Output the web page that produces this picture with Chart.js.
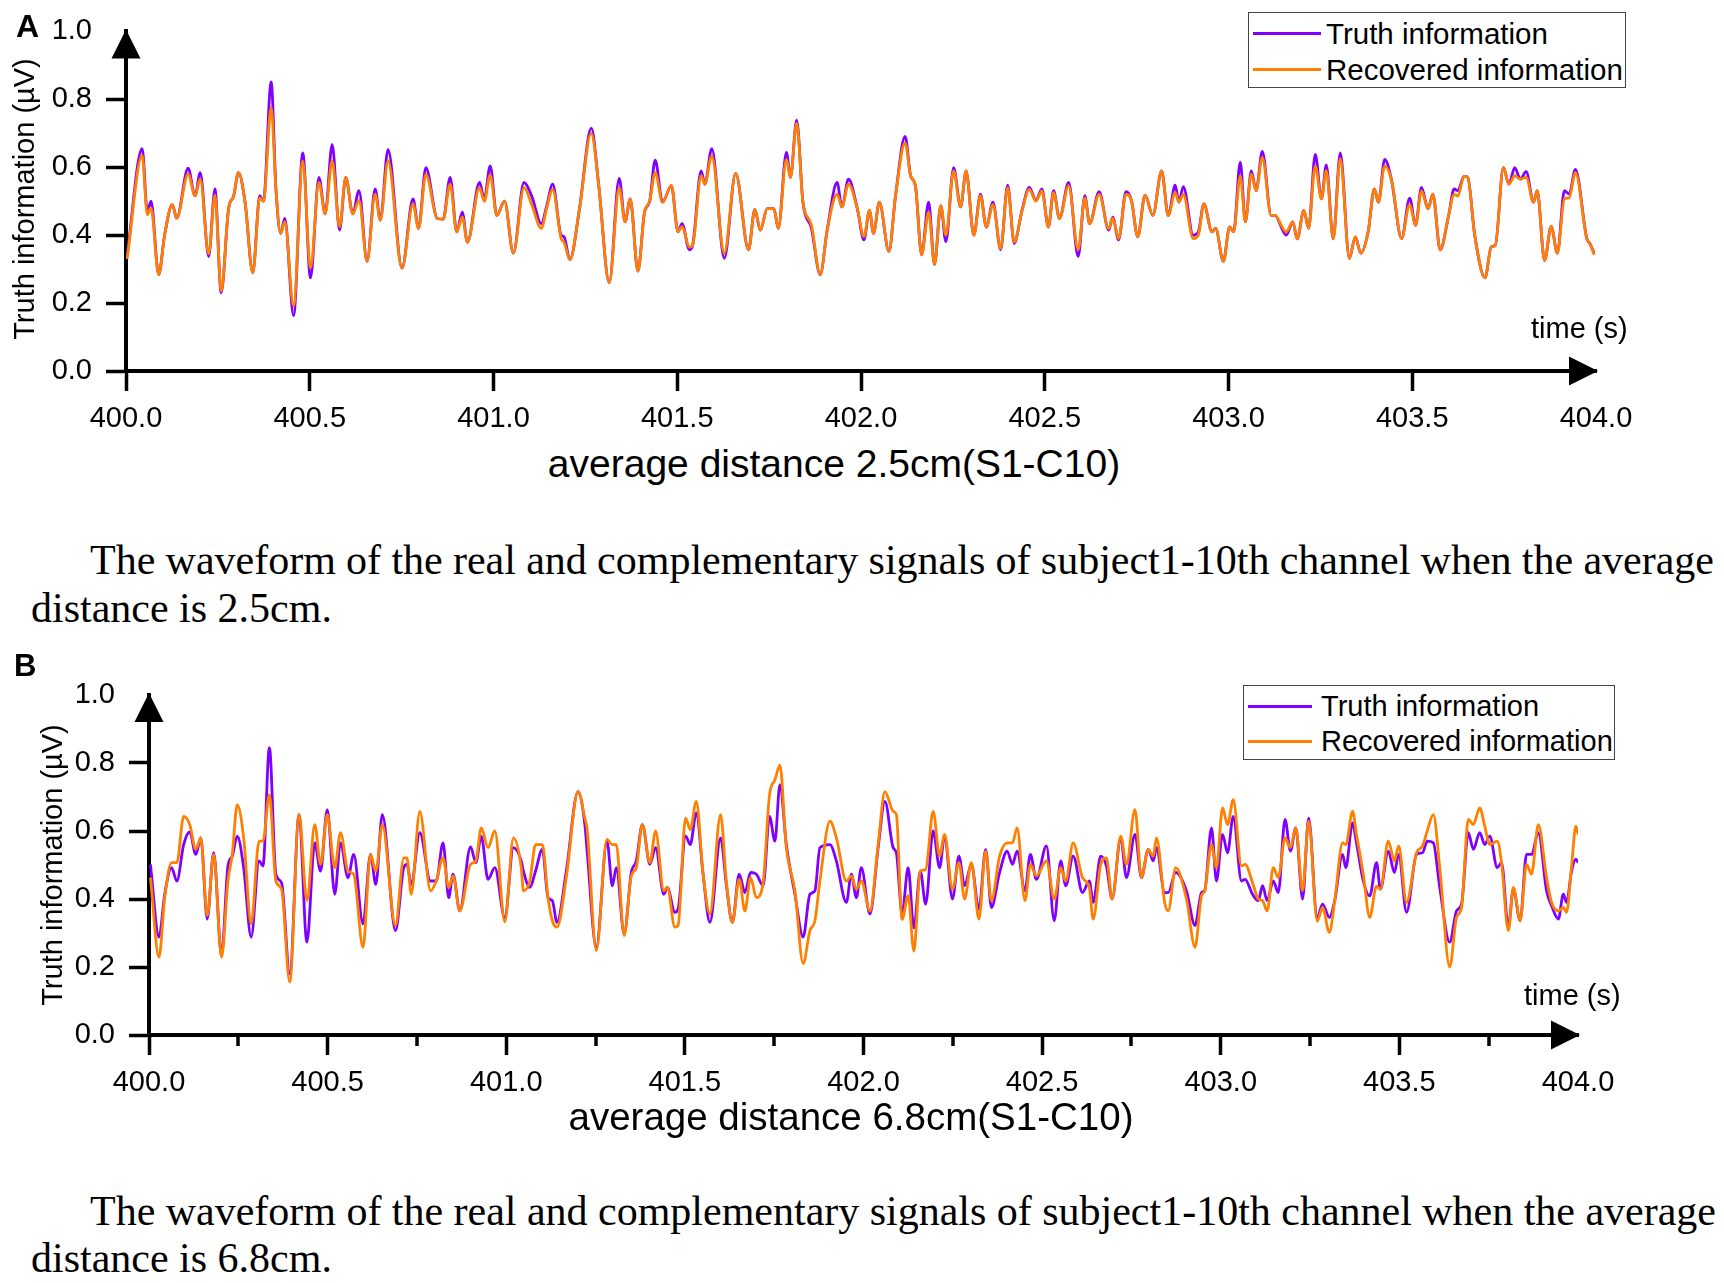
<!DOCTYPE html>
<html>
<head>
<meta charset="utf-8">
<script src="https://cdn.jsdelivr.net/npm/chart.js"></script>
<style>
  body { margin: 0; background: #fff; }
  #page { position: relative; width: 1724px; height: 1283px; overflow: hidden; background: #fff;
          font-family: "Liberation Sans", Arial, sans-serif; color: #000; }
  canvas { position: absolute; left: 0; }
  .t { position: absolute; white-space: nowrap; line-height: 1; }
  .ytitle { position: absolute; white-space: nowrap; line-height: 1; font-size: 29px;
            transform: translate(-50%, -50%) rotate(-90deg); }
  .xtitle { position: absolute; white-space: nowrap; line-height: 1; transform: translate(-50%, -50%); }
  .legend { position: absolute; border: 1.5px solid #444; background: #fff; }
  .legend .sw { position: absolute; height: 3px; }
  .legend .lb { position: absolute; white-space: nowrap; line-height: 1; }
  .cap { position: absolute; white-space: nowrap; line-height: 1; font-size: 42px;
         font-family: "Liberation Serif", "Times New Roman", serif; }
</style>
</head>
<body>
<div id="page">
  <canvas id="chartA" width="1724" height="440" style="top:0px"></canvas>
  <canvas id="chartB" width="1724" height="480" style="top:640px"></canvas>

  <div class="t" style="left:16px;top:10px;font-size:32px;font-weight:bold;">A</div>
  <div class="ytitle" style="left:24px;top:199px;">Truth information (µV)</div>
  <div class="xtitle" style="left:834px;top:463px;font-size:39px;">average distance 2.5cm(S1-C10)</div>
  <div class="t" style="left:1531px;top:314px;font-size:29px;">time (s)</div>
  <div class="legend" style="left:1248px;top:12px;width:376px;height:74px;">
    <div class="sw" style="left:4px;top:19px;width:68px;background:#8000ff;"></div>
    <div class="lb" style="left:77px;top:6px;font-size:29.5px;">Truth information</div>
    <div class="sw" style="left:4px;top:55px;width:68px;background:#ff8000;"></div>
    <div class="lb" style="left:77px;top:42px;font-size:29.5px;">Recovered information</div>
  </div>
  <div class="cap fit" data-w="1624" style="left:90px;top:539px;">The waveform of the real and complementary signals of subject1-10th channel when the average</div>
  <div class="cap" style="left:31px;top:587px;">distance is 2.5cm.</div>

  <div class="t" style="left:14px;top:650px;font-size:31px;font-weight:bold;">B</div>
  <div class="ytitle" style="left:52px;top:865px;">Truth information (µV)</div>
  <div class="xtitle" style="left:851px;top:1117px;font-size:38.5px;">average distance 6.8cm(S1-C10)</div>
  <div class="t" style="left:1524px;top:981px;font-size:29px;">time (s)</div>
  <div class="legend" style="left:1243px;top:685px;width:370px;height:73px;">
    <div class="sw" style="left:4px;top:19px;width:64px;background:#8000ff;"></div>
    <div class="lb" style="left:77px;top:6px;font-size:29px;">Truth information</div>
    <div class="sw" style="left:4px;top:54px;width:64px;background:#ff8000;"></div>
    <div class="lb" style="left:77px;top:41px;font-size:29px;">Recovered information</div>
  </div>
  <div class="cap fit" data-w="1626" style="left:90px;top:1190px;">The waveform of the real and complementary signals of subject1-10th channel when the average</div>
  <div class="cap" style="left:31px;top:1237px;">distance is 6.8cm.</div>
</div>

<script>
// axis ticks
const xTickValues = [400.0, 400.5, 401.0, 401.5, 402.0, 402.5, 403.0, 403.5, 404.0];
const yTickValues = [0.0, 0.2, 0.4, 0.6, 0.8, 1.0];
const minorTicksB = [400.25, 400.75, 401.25, 401.75, 402.25, 402.75, 403.25, 403.75];

// Panel A: average distance 2.5cm
const timesA = [
  400.003, 400.044, 400.058, 400.068, 400.089, 400.105, 400.126, 400.138, 400.169, 400.188,
  400.202, 400.225, 400.242, 400.259, 400.279, 400.293, 400.306, 400.324, 400.345, 400.364,
  400.374, 400.395, 400.408, 400.421, 400.432, 400.456, 400.481, 400.502, 400.525, 400.542,
  400.561, 400.581, 400.598, 400.617, 400.634, 400.656, 400.678, 400.692, 400.713, 400.751,
  400.781, 400.796, 400.816, 400.847, 400.863, 400.882, 400.900, 400.915, 400.929, 400.962,
  400.975, 400.991, 401.009, 401.030, 401.054, 401.083, 401.104, 401.130, 401.145, 401.161,
  401.184, 401.192, 401.208, 401.234, 401.266, 401.286, 401.315, 401.342, 401.358, 401.372,
  401.393, 401.411, 401.425, 401.440, 401.460, 401.484, 401.502, 401.513, 401.533, 401.542,
  401.565, 401.575, 401.594, 401.628, 401.659, 401.694, 401.711, 401.726, 401.745, 401.763,
  401.775, 401.797, 401.808, 401.825, 401.842, 401.865, 401.889, 401.908, 401.935, 401.948,
  401.966, 401.990, 402.008, 402.023, 402.034, 402.050, 402.076, 402.094, 402.120, 402.135,
  402.148, 402.165, 402.184, 402.200, 402.217, 402.231, 402.252, 402.271, 402.286, 402.307,
  402.325, 402.341, 402.359, 402.380, 402.399, 402.417, 402.438, 402.458, 402.476, 402.492,
  402.510, 402.524, 402.540, 402.565, 402.591, 402.609, 402.622, 402.648, 402.674, 402.685,
  402.701, 402.721, 402.736, 402.753, 402.773, 402.794, 402.818, 402.836, 402.855, 402.865,
  402.877, 402.904, 402.918, 402.933, 402.955, 402.965, 402.986, 403.003, 403.014, 403.032,
  403.046, 403.062, 403.075, 403.092, 403.116, 403.126, 403.157, 403.175, 403.187, 403.205,
  403.218, 403.236, 403.253, 403.266, 403.285, 403.304, 403.329, 403.345, 403.360, 403.380,
  403.397, 403.408, 403.425, 403.444, 403.471, 403.493, 403.509, 403.525, 403.543, 403.556,
  403.576, 403.599, 403.614, 403.624, 403.641, 403.651, 403.670, 403.698, 403.715, 403.726,
  403.748, 403.763, 403.779, 403.794, 403.810, 403.830, 403.840, 403.860, 403.878, 403.895,
  403.914, 403.927, 403.944, 403.975, 403.983, 403.995
];
const truthA = [
  0.34, 0.655, 0.47, 0.50, 0.284, 0.40, 0.49, 0.45, 0.597, 0.516,
  0.584, 0.337, 0.536, 0.23, 0.477, 0.516, 0.584, 0.497, 0.289, 0.516,
  0.50, 0.851, 0.536, 0.405, 0.449, 0.163, 0.642, 0.274, 0.57, 0.463,
  0.667, 0.415, 0.57, 0.463, 0.531, 0.323, 0.536, 0.444, 0.652, 0.303,
  0.507, 0.42, 0.599, 0.449, 0.447, 0.57, 0.41, 0.468, 0.379, 0.555,
  0.507, 0.604, 0.458, 0.50, 0.347, 0.555, 0.515, 0.434, 0.487, 0.55,
  0.40, 0.395, 0.328, 0.478, 0.715, 0.55, 0.26, 0.567, 0.439, 0.507,
  0.294, 0.468, 0.50, 0.621, 0.497, 0.546, 0.41, 0.434, 0.357, 0.371,
  0.589, 0.55, 0.655, 0.332, 0.582, 0.357, 0.476, 0.415, 0.478, 0.478,
  0.42, 0.644, 0.57, 0.739, 0.497, 0.42, 0.284, 0.415, 0.555, 0.483,
  0.565, 0.478, 0.386, 0.473, 0.405, 0.497, 0.352, 0.516, 0.691, 0.575,
  0.546, 0.342, 0.497, 0.313, 0.487, 0.381, 0.599, 0.483, 0.589, 0.40,
  0.521, 0.424, 0.497, 0.357, 0.547, 0.376, 0.473, 0.541, 0.502, 0.536,
  0.424, 0.531, 0.449, 0.555, 0.337, 0.516, 0.434, 0.528, 0.415, 0.453,
  0.386, 0.528, 0.502, 0.395, 0.518, 0.458, 0.589, 0.458, 0.547, 0.497,
  0.543, 0.40, 0.41, 0.492, 0.41, 0.42, 0.323, 0.424, 0.41, 0.615,
  0.439, 0.589, 0.531, 0.647, 0.458, 0.458, 0.40, 0.439, 0.389, 0.473,
  0.42, 0.638, 0.507, 0.607, 0.389, 0.642, 0.332, 0.395, 0.347, 0.41,
  0.536, 0.497, 0.623, 0.56, 0.39, 0.509, 0.429, 0.541, 0.478, 0.521,
  0.357, 0.458, 0.536, 0.531, 0.573, 0.57, 0.40, 0.274, 0.366, 0.37,
  0.599, 0.55, 0.599, 0.565, 0.587, 0.497, 0.531, 0.325, 0.426, 0.347,
  0.531, 0.521, 0.594, 0.39, 0.376, 0.347
];
const recoveredA = [
  0.33, 0.635, 0.46, 0.48, 0.284, 0.40, 0.49, 0.45, 0.58, 0.516,
  0.565, 0.345, 0.518, 0.235, 0.477, 0.516, 0.584, 0.497, 0.289, 0.51,
  0.50, 0.776, 0.536, 0.405, 0.44, 0.192, 0.618, 0.303, 0.555, 0.463,
  0.618, 0.425, 0.57, 0.463, 0.502, 0.323, 0.521, 0.444, 0.618, 0.303,
  0.492, 0.42, 0.579, 0.449, 0.447, 0.55, 0.41, 0.453, 0.379, 0.54,
  0.50, 0.577, 0.458, 0.50, 0.347, 0.54, 0.49, 0.42, 0.48, 0.535,
  0.39, 0.379, 0.328, 0.478, 0.70, 0.55, 0.26, 0.54, 0.439, 0.507,
  0.294, 0.468, 0.50, 0.584, 0.497, 0.546, 0.41, 0.425, 0.365, 0.371,
  0.575, 0.55, 0.633, 0.347, 0.582, 0.357, 0.476, 0.415, 0.478, 0.478,
  0.42, 0.623, 0.57, 0.73, 0.497, 0.43, 0.284, 0.415, 0.521, 0.483,
  0.55, 0.478, 0.396, 0.473, 0.405, 0.497, 0.352, 0.516, 0.672, 0.575,
  0.546, 0.342, 0.468, 0.313, 0.487, 0.40, 0.589, 0.483, 0.589, 0.40,
  0.516, 0.424, 0.49, 0.36, 0.54, 0.38, 0.47, 0.535, 0.50, 0.53,
  0.424, 0.525, 0.449, 0.545, 0.357, 0.51, 0.434, 0.52, 0.42, 0.45,
  0.39, 0.52, 0.502, 0.395, 0.518, 0.458, 0.589, 0.458, 0.525, 0.497,
  0.52, 0.39, 0.40, 0.492, 0.41, 0.42, 0.323, 0.424, 0.41, 0.574,
  0.439, 0.58, 0.531, 0.628, 0.458, 0.458, 0.41, 0.439, 0.389, 0.473,
  0.42, 0.603, 0.507, 0.59, 0.389, 0.625, 0.332, 0.395, 0.347, 0.41,
  0.536, 0.497, 0.603, 0.56, 0.39, 0.49, 0.429, 0.53, 0.478, 0.521,
  0.357, 0.458, 0.52, 0.515, 0.573, 0.57, 0.40, 0.274, 0.366, 0.37,
  0.599, 0.55, 0.575, 0.565, 0.57, 0.497, 0.531, 0.325, 0.426, 0.347,
  0.507, 0.51, 0.584, 0.39, 0.376, 0.342
];

// Panel B: average distance 6.8cm
const timesB = [
  400.004, 400.028, 400.044, 400.063, 400.078, 400.097, 400.114, 400.131, 400.145, 400.163,
  400.181, 400.203, 400.221, 400.233, 400.247, 400.265, 400.286, 400.308, 400.319, 400.337,
  400.355, 400.371, 400.394, 400.420, 400.442, 400.464, 400.480, 400.499, 400.520, 400.536,
  400.557, 400.573, 400.599, 400.620, 400.635, 400.653, 400.690, 400.713, 400.722, 400.734,
  400.758, 400.788, 400.804, 400.823, 400.839, 400.851, 400.870, 400.900, 400.915, 400.930,
  400.949, 400.968, 400.996, 401.020, 401.042, 401.048, 401.066, 401.082, 401.101, 401.117,
  401.129, 401.142, 401.168, 401.201, 401.220, 401.226, 401.252, 401.282, 401.297, 401.308,
  401.330, 401.350, 401.364, 401.381, 401.402, 401.418, 401.441, 401.451, 401.472, 401.481,
  401.502, 401.515, 401.532, 401.551, 401.570, 401.600, 401.616, 401.633, 401.652, 401.668,
  401.684, 401.700, 401.719, 401.737, 401.752, 401.766, 401.784, 401.808, 401.831, 401.850,
  401.864, 401.878, 401.906, 401.924, 401.952, 401.966, 401.980, 401.994, 402.018, 402.041,
  402.060, 402.083, 402.092, 402.108, 402.125, 402.141, 402.159, 402.174, 402.195, 402.213,
  402.227, 402.249, 402.267, 402.283, 402.302, 402.323, 402.342, 402.358, 402.381, 402.402,
  402.417, 402.430, 402.452, 402.467, 402.484, 402.512, 402.534, 402.552, 402.566, 402.587,
  402.613, 402.632, 402.643, 402.664, 402.680, 402.696, 402.720, 402.736, 402.760, 402.778,
  402.797, 402.811, 402.820, 402.843, 402.853, 402.874, 402.904, 402.928, 402.946, 402.955,
  402.974, 402.988, 403.005, 403.019, 403.035, 403.058, 403.068, 403.089, 403.105, 403.117,
  403.130, 403.147, 403.161, 403.180, 403.195, 403.210, 403.229, 403.246, 403.270, 403.285,
  403.304, 403.319, 403.341, 403.350, 403.369, 403.380, 403.399, 403.417, 403.436, 403.447,
  403.469, 403.486, 403.498, 403.520, 403.548, 403.565, 403.578, 403.595, 403.613, 403.641,
  403.660, 403.674, 403.693, 403.707, 403.725, 403.739, 403.753, 403.774, 403.786, 403.805,
  403.819, 403.838, 403.856, 403.870, 403.889, 403.912, 403.926, 403.945, 403.959, 403.968,
  403.982, 403.994, 404.000
];
const truthB = [
  0.502, 0.288, 0.414, 0.492, 0.453, 0.56, 0.597, 0.531, 0.58, 0.341,
  0.536, 0.234, 0.497, 0.526, 0.585, 0.492, 0.288, 0.512, 0.497, 0.845,
  0.473, 0.448, 0.18, 0.648, 0.273, 0.565, 0.482, 0.663, 0.414, 0.565,
  0.463, 0.531, 0.327, 0.531, 0.443, 0.648, 0.307, 0.492, 0.502, 0.443,
  0.595, 0.453, 0.453, 0.565, 0.404, 0.473, 0.365, 0.553, 0.507, 0.585,
  0.458, 0.492, 0.345, 0.551, 0.512, 0.482, 0.434, 0.482, 0.546, 0.404,
  0.395, 0.331, 0.482, 0.716, 0.619, 0.546, 0.258, 0.57, 0.439, 0.492,
  0.297, 0.478, 0.512, 0.619, 0.502, 0.551, 0.414, 0.434, 0.361, 0.37,
  0.585, 0.56, 0.653, 0.473, 0.331, 0.58, 0.443, 0.331, 0.473, 0.419,
  0.478, 0.473, 0.439, 0.643, 0.57, 0.736, 0.56, 0.414, 0.288, 0.414,
  0.424, 0.551, 0.56, 0.512, 0.39, 0.473, 0.404, 0.492, 0.356, 0.551,
  0.687, 0.551, 0.536, 0.356, 0.492, 0.315, 0.482, 0.385, 0.60, 0.492,
  0.585, 0.40, 0.526, 0.439, 0.502, 0.37, 0.546, 0.375, 0.478, 0.541,
  0.502, 0.541, 0.424, 0.531, 0.458, 0.556, 0.336, 0.512, 0.439, 0.526,
  0.419, 0.453, 0.39, 0.526, 0.497, 0.40, 0.58, 0.463, 0.59, 0.463,
  0.546, 0.512, 0.551, 0.419, 0.419, 0.478, 0.424, 0.322, 0.419, 0.424,
  0.609, 0.453, 0.59, 0.536, 0.643, 0.453, 0.458, 0.414, 0.395, 0.439,
  0.395, 0.453, 0.419, 0.634, 0.541, 0.609, 0.40, 0.638, 0.345, 0.385,
  0.346, 0.395, 0.531, 0.492, 0.624, 0.565, 0.453, 0.409, 0.507, 0.429,
  0.541, 0.478, 0.531, 0.361, 0.531, 0.536, 0.57, 0.565, 0.434, 0.273,
  0.365, 0.385, 0.595, 0.546, 0.595, 0.56, 0.585, 0.492, 0.507, 0.317,
  0.429, 0.336, 0.531, 0.531, 0.595, 0.424, 0.38, 0.341, 0.414, 0.39,
  0.482, 0.517, 0.507
];
const recoveredB = [
  0.463, 0.229, 0.404, 0.507, 0.507, 0.643, 0.619, 0.546, 0.58, 0.351,
  0.531, 0.229, 0.453, 0.531, 0.677, 0.58, 0.327, 0.57, 0.57, 0.707,
  0.453, 0.429, 0.156, 0.648, 0.395, 0.619, 0.502, 0.648, 0.492, 0.595,
  0.482, 0.473, 0.258, 0.531, 0.482, 0.619, 0.322, 0.521, 0.521, 0.414,
  0.658, 0.424, 0.453, 0.521, 0.434, 0.468, 0.365, 0.502, 0.512, 0.609,
  0.551, 0.60, 0.333, 0.58, 0.492, 0.424, 0.453, 0.56, 0.56, 0.404,
  0.336, 0.317, 0.463, 0.716, 0.638, 0.609, 0.249, 0.575, 0.56, 0.56,
  0.292, 0.468, 0.492, 0.619, 0.507, 0.60, 0.424, 0.434, 0.317, 0.322,
  0.638, 0.604, 0.687, 0.473, 0.356, 0.648, 0.453, 0.331, 0.458, 0.365,
  0.463, 0.404, 0.448, 0.707, 0.75, 0.794, 0.551, 0.424, 0.21, 0.307,
  0.336, 0.453, 0.629, 0.58, 0.453, 0.468, 0.429, 0.453, 0.365, 0.56,
  0.716, 0.658, 0.648, 0.34, 0.41, 0.247, 0.482, 0.487, 0.658, 0.526,
  0.59, 0.429, 0.507, 0.40, 0.507, 0.341, 0.541, 0.395, 0.526, 0.565,
  0.565, 0.609, 0.395, 0.502, 0.468, 0.512, 0.40, 0.492, 0.453, 0.565,
  0.463, 0.434, 0.341, 0.502, 0.521, 0.40, 0.585, 0.502, 0.663, 0.463,
  0.546, 0.526, 0.58, 0.39, 0.365, 0.492, 0.40, 0.258, 0.409, 0.424,
  0.56, 0.492, 0.668, 0.619, 0.692, 0.497, 0.502, 0.448, 0.40, 0.395,
  0.365, 0.492, 0.463, 0.58, 0.551, 0.609, 0.424, 0.629, 0.335, 0.375,
  0.302, 0.395, 0.565, 0.56, 0.658, 0.59, 0.473, 0.346, 0.438, 0.429,
  0.57, 0.512, 0.556, 0.39, 0.536, 0.556, 0.60, 0.648, 0.492, 0.20,
  0.346, 0.375, 0.634, 0.619, 0.668, 0.614, 0.56, 0.57, 0.507, 0.307,
  0.434, 0.336, 0.502, 0.473, 0.619, 0.463, 0.39, 0.365, 0.375, 0.361,
  0.497, 0.614, 0.59
];

const PURPLE = "#8000ff";
const ORANGE = "#ff8000";
const FONT = "'Liberation Sans', Arial, sans-serif";

// arrow heads on both axes, plus optional minor ticks under the x axis
function axisDecor(minorTicks) {
  return {
    id: "axisDecor",
    afterDraw(chart) {
      const { ctx, chartArea } = chart;
      const { left, right, top, bottom } = chartArea;
      ctx.save();
      ctx.fillStyle = "#000";
      ctx.beginPath();
      ctx.moveTo(left, top - 2);
      ctx.lineTo(left - 14.5, top + 27);
      ctx.lineTo(left + 14.5, top + 27);
      ctx.closePath();
      ctx.fill();
      ctx.beginPath();
      ctx.moveTo(right + 2, bottom);
      ctx.lineTo(right - 27, bottom - 14.5);
      ctx.lineTo(right - 27, bottom + 14.5);
      ctx.closePath();
      ctx.fill();
      if (minorTicks) {
        const xs = chart.scales.x;
        ctx.strokeStyle = "#000";
        ctx.lineWidth = 3.5;
        minorTicks.forEach(v => {
          const px = Math.round(xs.getPixelForValue(v));
          ctx.beginPath();
          ctx.moveTo(px, bottom);
          ctx.lineTo(px, bottom + 11);
          ctx.stroke();
        });
      }
      ctx.restore();
    }
  };
}

function buildChart(id, times, truth, recovered, box, minorTicks) {
  const ctx = document.getElementById(id).getContext("2d");
  const hide = "rgba(0,0,0,0)";
  return new Chart(ctx, {
    type: "line",
    data: {
      datasets: [
        {
          label: "Truth information",
          data: times.map((t, i) => ({ x: t, y: truth[i] })),
          borderColor: PURPLE,
          borderWidth: 2.8,
          pointRadius: 0,
          cubicInterpolationMode: "monotone",
          order: 1
        },
        {
          label: "Recovered information",
          data: times.map((t, i) => ({ x: t, y: recovered[i] })),
          borderColor: ORANGE,
          borderWidth: 2.8,
          pointRadius: 0,
          cubicInterpolationMode: "monotone",
          order: 0
        }
      ]
    },
    options: {
      responsive: false,
      animation: false,
      devicePixelRatio: 1,
      layout: { padding: { left: 0, top: box.top, right: box.right, bottom: 0 } },
      plugins: { legend: { display: false }, tooltip: { enabled: false } },
      scales: {
        x: {
          type: "linear",
          min: 400,
          max: 404,
          afterBuildTicks: s => { s.ticks = xTickValues.map(v => ({ value: v })); },
          afterFit: s => { s.height = box.xh; },
          ticks: {
            callback: v => Number(v).toFixed(1),
            font: { family: FONT, size: 29 },
            color: "#000",
            padding: 11,
            maxRotation: 0,
            autoSkip: false
          },
          grid: {
            drawOnChartArea: false,
            tickLength: 20,
            tickWidth: 3.5,
            tickColor: c => (c.tick && c.tick.value === 404 ? hide : "#000")
          },
          border: { display: true, color: "#000", width: 4 }
        },
        y: {
          min: 0,
          max: 1,
          afterBuildTicks: s => { s.ticks = yTickValues.map(v => ({ value: v })); },
          afterFit: s => { s.width = box.left; },
          ticks: {
            callback: v => Number(v).toFixed(1),
            font: { family: FONT, size: 29 },
            color: "#000",
            padding: 14
          },
          grid: {
            drawOnChartArea: false,
            tickLength: 20,
            tickWidth: 3.5,
            tickColor: c => (c.tick && c.tick.value === 1 ? hide : "#000")
          },
          border: { display: true, color: "#000", width: 4 }
        }
      }
    },
    plugins: [axisDecor(minorTicks)]
  });
}

buildChart("chartA", timesA, truthA, recoveredA, { left: 126, top: 25, right: 128, xh: 69 }, null);
buildChart("chartB", timesB, truthB, recoveredB, { left: 149, top: 55, right: 146, xh: 85 }, minorTicksB);

// stretch the first caption lines to the measured width of the original
document.querySelectorAll(".cap.fit").forEach(el => {
  const target = Number(el.dataset.w);
  const spaces = (el.textContent.match(/ /g) || []).length;
  const natural = el.getBoundingClientRect().width;
  el.style.wordSpacing = ((target - natural) / spaces) + "px";
});
</script>
</body>
</html>
